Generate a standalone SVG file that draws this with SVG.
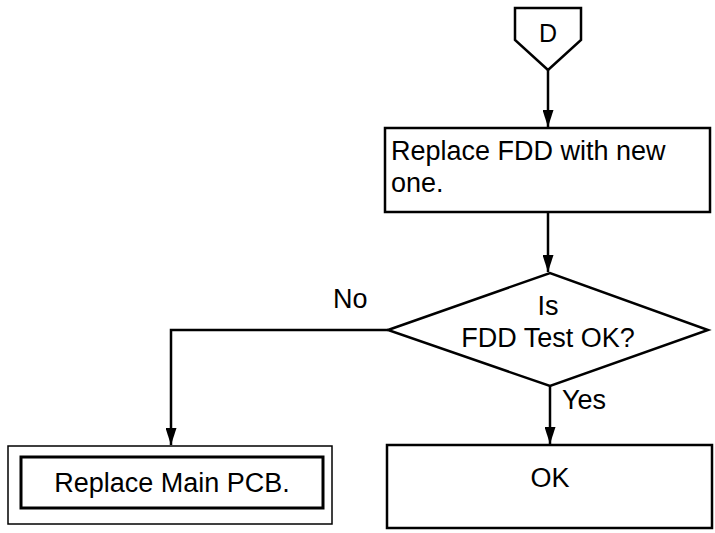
<svg xmlns="http://www.w3.org/2000/svg" width="715" height="533" viewBox="0 0 715 533">
<defs>
<marker id="arr" markerWidth="17" markerHeight="11" refX="17" refY="5.5" orient="auto" markerUnits="userSpaceOnUse" viewBox="0 0 17 11">
<path d="M0,0 L17,5.5 L0,11 Z" fill="#000"/>
</marker>
<style>
.ln{fill:none;stroke:#000;stroke-width:2.5}
.bx{fill:#fff;stroke:#000;stroke-width:2.5}
.t{font-family:"Liberation Sans",Arial,sans-serif;font-size:27px;fill:#000}
</style>
</defs>
<rect width="715" height="533" fill="#fff"/>
<g id="connectors">
<path class="ln" d="M548,70 L548,127" marker-end="url(#arr)"/>
<path class="ln" d="M548,212 L548,272" marker-end="url(#arr)"/>
<path class="ln" d="M388,330 L171,330 L171,445" marker-end="url(#arr)"/>
<path class="ln" d="M550,386 L550,444" marker-end="url(#arr)"/>
<text class="t" x="333" y="308" font-size="25">No</text>
<text class="t" x="562" y="409" font-size="25">Yes</text>
</g>
<g id="D">
<path class="bx" d="M515,8 L581,8 L581,40 L548,70 L515,40 Z"/>
<text x="548" y="42" text-anchor="middle" style="font-family:'Liberation Sans',Arial,sans-serif;font-size:25px">D</text>
</g>
<g id="replace-fdd">
<rect class="bx" x="385" y="128" width="325" height="84"/>
<text class="t" x="391" y="160">Replace FDD with new</text>
<text class="t" x="391" y="192">one.</text>
</g>
<g id="decision">
<path class="bx" d="M388,330 L550,273 L708,330 L550,386 Z"/>
<text class="t" x="548" y="315" text-anchor="middle">Is</text>
<text class="t" x="548" y="347" text-anchor="middle">FDD Test OK?</text>
</g>
<g id="main-pcb">
<rect x="8" y="446" width="324" height="78" fill="#fff" stroke="#000" stroke-width="1.5"/>
<rect x="21" y="457" width="302" height="51" fill="none" stroke="#000" stroke-width="3"/>
<text class="t" x="172" y="492" text-anchor="middle" font-size="25">Replace Main PCB.</text>
</g>
<g id="ok">
<rect class="bx" x="387" y="445" width="325" height="83"/>
<text class="t" x="550" y="487" text-anchor="middle">OK</text>
</g>
</svg>
